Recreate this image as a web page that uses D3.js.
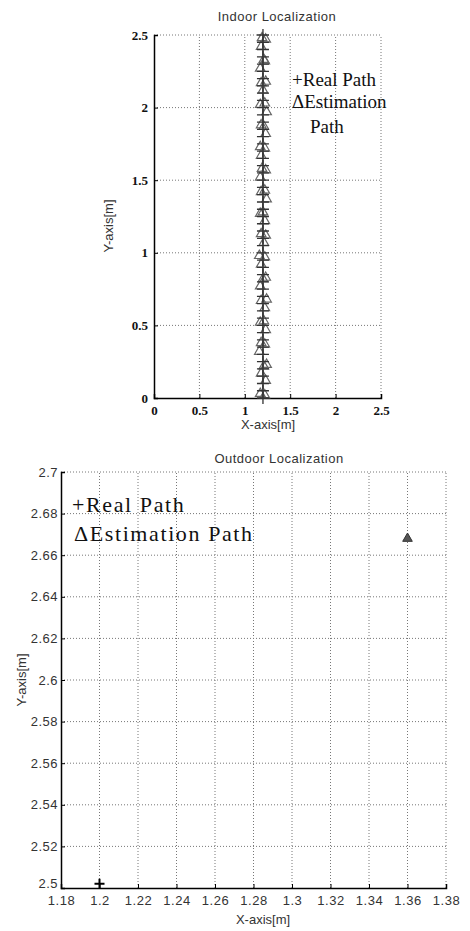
<!DOCTYPE html>
<html>
<head>
<meta charset="utf-8">
<script src="https://cdn.jsdelivr.net/npm/d3@7"></script>
<style>
  body { margin: 0; background: #fff; }
  svg { display: block; }
</style>
</head>
<body>
<div id="chart-container"></div>
<script>
// indoor data (real path and estimated path)
const indoorRealY = [0, 0.05, 0.1, 0.15, 0.2, 0.25, 0.3, 0.35, 0.4, 0.45, 0.5, 0.55, 0.6, 0.65, 0.7, 0.75, 0.8, 0.85, 0.9, 0.95,
  1, 1.05, 1.1, 1.15, 1.2, 1.25, 1.3, 1.35, 1.4, 1.45, 1.5, 1.55, 1.6, 1.65, 1.7, 1.75, 1.8, 1.85, 1.9, 1.95,
  2, 2.05, 2.1, 2.15, 2.2, 2.25, 2.3, 2.35, 2.4, 2.45, 2.5];
const indoorRealX = [1.2, 1.2, 1.2, 1.2, 1.2, 1.2, 1.2, 1.2, 1.2, 1.2, 1.2, 1.2, 1.2, 1.2, 1.2, 1.2, 1.2, 1.2, 1.2, 1.2,
  1.2, 1.2, 1.2, 1.2, 1.2, 1.2, 1.2, 1.2, 1.2, 1.2, 1.2, 1.2, 1.2, 1.2, 1.2, 1.2, 1.2, 1.2, 1.2, 1.2,
  1.2, 1.2, 1.2, 1.2, 1.2, 1.2, 1.2, 1.2, 1.2, 1.2, 1.2];
const indoorEstX = [1.22, 1.17, 1.23, 1.18, 1.21, 1.24, 1.16, 1.22, 1.18, 1.23, 1.17, 1.21, 1.22, 1.18, 1.24, 1.17, 1.2, 1.23, 1.18, 1.22,
  1.16, 1.21, 1.23, 1.18, 1.22, 1.17, 1.2, 1.24, 1.18, 1.22, 1.17, 1.23, 1.19, 1.18, 1.22, 1.17, 1.23, 1.21, 1.18, 1.24,
  1.17, 1.22, 1.2, 1.18, 1.23, 1.17, 1.22, 1.21, 1.18, 1.23, 1.19];
const indoorEstY = [0.02, 0.03, 0.12, 0.17, 0.22, 0.23, 0.32, 0.37, 0.38, 0.47, 0.52, 0.53, 0.62, 0.67, 0.68, 0.77, 0.82, 0.83, 0.92, 0.97,
  0.98, 1.07, 1.12, 1.13, 1.22, 1.27, 1.28, 1.37, 1.42, 1.43, 1.52, 1.57, 1.58, 1.67, 1.72, 1.73, 1.82, 1.87, 1.88, 1.97,
  2.02, 2.03, 2.12, 2.17, 2.18, 2.27, 2.32, 2.33, 2.42, 2.47, 2.48];
const indoorTicks = [0, 0.5, 1, 1.5, 2, 2.5];

// outdoor data
const outdoorRealX = [1.2];
const outdoorRealY = [2.502];
const outdoorEstX = [1.36];
const outdoorEstY = [2.668];
const outdoorXTicks = [1.18, 1.2, 1.22, 1.24, 1.26, 1.28, 1.3, 1.32, 1.34, 1.36, 1.38];
const outdoorYTicks = [2.5, 2.52, 2.54, 2.56, 2.58, 2.6, 2.62, 2.64, 2.66, 2.68, 2.7];

const W = 470, H = 931;
const svg = d3.select("#chart-container").append("svg")
  .attr("width", W).attr("height", H)
  .style("font-family", "'Liberation Sans', Arial, sans-serif");

// draws one panel: grid, axes, labels
function drawPanel(cfg) {
  const g = svg.append("g");
  const x = d3.scaleLinear().domain(cfg.xDomain).range(cfg.xRange);
  const y = d3.scaleLinear().domain(cfg.yDomain).range(cfg.yRange);

  // grid lines (dotted)
  g.selectAll(".vgrid").data(cfg.xTicks.slice(1)).enter().append("line")
    .attr("x1", d => x(d)).attr("x2", d => x(d))
    .attr("y1", y.range()[0]).attr("y2", y.range()[1])
    .attr("stroke", "#777").attr("stroke-width", 1).attr("stroke-dasharray", "1,2");
  g.selectAll(".hgrid").data(cfg.yTicks.slice(1)).enter().append("line")
    .attr("y1", d => y(d)).attr("y2", d => y(d))
    .attr("x1", x.range()[0]).attr("x2", x.range()[1])
    .attr("stroke", "#777").attr("stroke-width", 1).attr("stroke-dasharray", "1,2");

  // axes, MATLAB style inner ticks
  const xAxis = g.append("g")
    .attr("transform", `translate(0,${y.range()[0]})`)
    .call(d3.axisBottom(x).tickValues(cfg.xTicks).tickSize(-4).tickPadding(cfg.xPad).tickFormat(cfg.fmt));
  const yAxis = g.append("g")
    .attr("transform", `translate(${x.range()[0]},0)`)
    .call(d3.axisLeft(y).tickValues(cfg.yTicks).tickSize(-4).tickPadding(cfg.yPad).tickFormat(cfg.fmt));
  [xAxis, yAxis].forEach(a => {
    a.select(".domain").attr("stroke", "#000").attr("stroke-width", 1.5);
    a.selectAll(".tick line").attr("stroke", "#000");
    a.selectAll("text")
      .style("font-family", cfg.tickFont)
      .style("font-weight", cfg.tickWeight)
      .style("font-size", cfg.tickSize)
      .style("letter-spacing", cfg.tickSpacing)
      .attr("fill", cfg.tickColor);
  });

  // title
  g.append("text")
    .attr("x", cfg.titleX).attr("y", cfg.titleY)
    .style("text-anchor", "middle").style("font-size", "13px")
    .style("letter-spacing", "0.5px")
    .attr("fill", "#333")
    .text(cfg.title);
  // x label
  g.append("text")
    .attr("x", cfg.xLabelX).attr("y", cfg.xLabelY)
    .style("text-anchor", "middle").style("font-size", "13px")
    .attr("fill", "#333")
    .text("X-axis[m]");
  // y label
  g.append("text")
    .attr("transform", `translate(${cfg.yLabelX},${cfg.yLabelY}) rotate(-90)`)
    .style("text-anchor", "middle").style("font-size", "13px")
    .attr("fill", "#333")
    .text("Y-axis[m]");

  return { g, x, y, yAxis };
}

function plusPath(s) {
  return `M${-s},0H${s}M0,${-s}V${s}`;
}
const triangle = d3.symbol().type(d3.symbolTriangle);

// ---------- indoor ----------
const indoor = drawPanel({
  xDomain: [0, 2.5], xRange: [154, 381],
  yDomain: [0, 2.5], yRange: [398, 35],
  xTicks: indoorTicks, yTicks: indoorTicks,
  fmt: d3.format(""),
  tickFont: "'Liberation Serif', serif", tickWeight: "bold", tickSize: "13px",
  tickSpacing: "0px", tickColor: "#111",
  xPad: 8, yPad: 6,
  title: "Indoor Localization", titleX: 277, titleY: 21,
  xLabelX: 268, xLabelY: 429,
  yLabelX: 113, yLabelY: 226
});

const indoorReal = indoorRealY.map((v, i) => [indoorRealX[i], v]);
const indoorEst = indoorEstY.map((v, i) => [indoorEstX[i], v]);

indoor.g.append("path")
  .attr("d", d3.line().x(d => indoor.x(d[0])).y(d => indoor.y(d[1]))(indoorReal))
  .attr("fill", "none").attr("stroke", "#444").attr("stroke-width", 1);

indoor.g.selectAll(".est").data(indoorEst).enter().append("path")
  .attr("transform", d => `translate(${indoor.x(d[0])},${indoor.y(d[1])})`)
  .attr("d", triangle.size(40))
  .attr("fill", "none").attr("stroke", "#666").attr("stroke-width", 1.2);

indoor.g.selectAll(".real").data(indoorReal).enter().append("path")
  .attr("transform", d => `translate(${indoor.x(d[0])},${indoor.y(d[1])})`)
  .attr("d", plusPath(6))
  .attr("fill", "none").attr("stroke", "#333").attr("stroke-width", 1.3);

// legend
const legTop = indoor.g.append("g")
  .style("font-family", "'Liberation Serif', 'Times New Roman', serif")
  .style("font-size", "19px").attr("fill", "#111");
legTop.append("text").attr("x", 292).attr("y", 86).text("+Real Path");
legTop.append("text").attr("x", 292).attr("y", 108).text("\u0394Estimation");
legTop.append("text").attr("x", 310).attr("y", 133).text("Path");

// ---------- outdoor ----------
const outdoor = drawPanel({
  xDomain: [1.18, 1.38], xRange: [61, 446],
  yDomain: [2.5, 2.7], yRange: [888, 472],
  xTicks: outdoorXTicks, yTicks: outdoorYTicks,
  fmt: d3.format(""),
  tickFont: "'Liberation Sans', Arial, sans-serif", tickWeight: "normal", tickSize: "13px",
  tickSpacing: "0.5px", tickColor: "#333",
  xPad: 8, yPad: 3,
  title: "Outdoor Localization", titleX: 279, titleY: 463,
  xLabelX: 263, xLabelY: 924,
  yLabelX: 26, yLabelY: 680
});
// lift the lowest y label a little, as in the original
outdoor.yAxis.selectAll(".tick text").filter(d => d === 2.5).attr("dy", "-0.05em");

outdoor.g.selectAll(".est").data(outdoorEstX.map((v, i) => [v, outdoorEstY[i]])).enter().append("path")
  .attr("transform", d => `translate(${outdoor.x(d[0])},${outdoor.y(d[1])})`)
  .attr("d", triangle.size(40))
  .attr("fill", "#555").attr("stroke", "#333").attr("stroke-width", 1);

outdoor.g.selectAll(".real").data(outdoorRealX.map((v, i) => [v, outdoorRealY[i]])).enter().append("path")
  .attr("transform", d => `translate(${outdoor.x(d[0])},${outdoor.y(d[1])})`)
  .attr("d", plusPath(5))
  .attr("fill", "none").attr("stroke", "#000").attr("stroke-width", 2);

const legBot = outdoor.g.append("g")
  .style("font-family", "'Liberation Serif', 'Times New Roman', serif")
  .style("font-size", "22px").style("letter-spacing", "1.6px").attr("fill", "#111");
legBot.append("text").attr("x", 72).attr("y", 512).text("+Real Path");
legBot.append("text").attr("x", 74).attr("y", 541).text("\u0394Estimation Path");
</script>
</body>
</html>
